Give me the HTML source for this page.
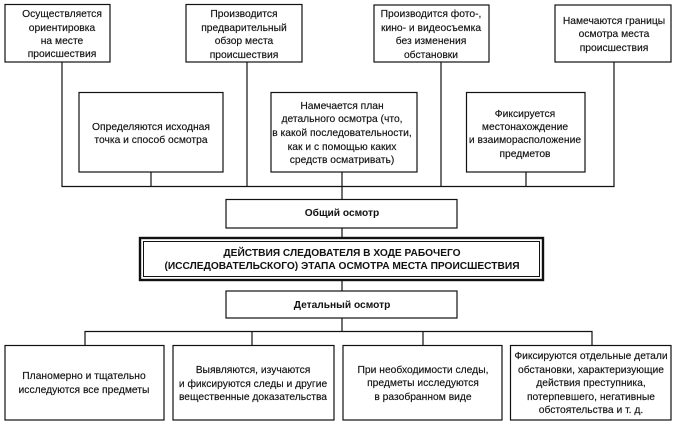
<!DOCTYPE html>
<html lang="ru">
<head>
<meta charset="utf-8">
<title>Действия следователя</title>
<style>
html,body{margin:0;padding:0;background:#fff;width:674px;height:424px;overflow:hidden}
svg{display:block;filter:blur(.3px)}
text{font-family:"Liberation Sans",sans-serif;font-size:10.3px;fill:#111;text-anchor:middle;stroke:#111;stroke-width:.15px}
text.b{font-weight:bold;stroke-width:0;font-size:10.2px}
rect{fill:#fff;stroke:#111;stroke-width:1.2}
path{fill:none;stroke:#111;stroke-width:1.2}
</style>
</head>
<body>
<svg width="674" height="424" viewBox="0 0 674 424" xmlns="http://www.w3.org/2000/svg">
<path d="M62 62V186.500H614V62M151 172V186M247 62V186M441 62V186M526 172V186M342 172V199M342 228V237M342 281V291M342 318V331M85 345V331.500H592V345M252 331V345M423 331V345"/>
<rect x="5" y="4.500" width="105" height="57.500"/>
<rect x="186" y="4.500" width="116" height="57.500"/>
<rect x="374" y="5" width="115" height="57"/>
<rect x="555" y="5" width="116" height="57"/>
<rect x="79" y="92.500" width="144" height="79.500"/>
<rect x="271" y="92.500" width="146" height="79.500"/>
<rect x="466.500" y="92.500" width="118.500" height="79.500"/>
<rect x="226" y="199.500" width="231" height="28.500"/>
<rect x="140" y="238" width="403" height="42" style="stroke-width:2.400"/>
<rect x="143.500" y="241.500" width="396" height="35" style="stroke-width:1"/>
<rect x="226" y="291" width="231" height="27"/>
<rect x="5" y="345.500" width="159" height="74.500"/>
<rect x="173" y="345.500" width="161" height="74.500"/>
<rect x="343" y="345.500" width="159" height="74.500"/>
<rect x="510.500" y="345.500" width="160.500" height="74.500"/>

<text x="62" y="17">Осуществляется</text>
<text x="62" y="31">ориентировка</text>
<text x="62" y="44">на месте</text>
<text x="62" y="57">происшествия</text>

<text x="244" y="17">Производится</text>
<text x="244" y="31">предварительный</text>
<text x="244" y="44">обзор места</text>
<text x="244" y="58">происшествия</text>

<text x="431" y="17">Производится фото-,</text>
<text x="431" y="31">кино- и видеосъемка</text>
<text x="431" y="44">без изменения</text>
<text x="431" y="58">обстановки</text>

<text x="614" y="24">Намечаются границы</text>
<text x="614" y="37">осмотра места</text>
<text x="614" y="51">происшествия</text>

<text x="151" y="130">Определяются исходная</text>
<text x="151" y="143">точка и способ осмотра</text>

<text x="342" y="109">Намечается план</text>
<text x="342" y="122">детального осмотра (что,</text>
<text x="342" y="136">в какой последовательности,</text>
<text x="342" y="150">как и с помощью каких</text>
<text x="342" y="163">средств осматривать)</text>

<text x="525" y="117">Фиксируется</text>
<text x="525" y="130">местонахождение</text>
<text x="525" y="143">и взаиморасположение</text>
<text x="525" y="157">предметов</text>

<text class="b" x="342" y="216">Общий осмотр</text>
<text class="b" x="342" y="256">ДЕЙСТВИЯ СЛЕДОВАТЕЛЯ В ХОДЕ РАБОЧЕГО</text>
<text class="b" x="342" y="269">(ИССЛЕДОВАТЕЛЬСКОГО) ЭТАПА ОСМОТРА МЕСТА ПРОИСШЕСТВИЯ</text>
<text class="b" x="342" y="308">Детальный осмотр</text>

<text x="84" y="379">Планомерно и тщательно</text>
<text x="84" y="393">исследуются все предметы</text>

<text x="253" y="373">Выявляются, изучаются</text>
<text x="253" y="387">и фиксируются следы и другие</text>
<text x="253" y="400">вещественные доказательства</text>

<text x="423" y="373">При необходимости следы,</text>
<text x="423" y="386">предметы исследуются</text>
<text x="423" y="400">в разобранном виде</text>

<text x="591" y="359">Фиксируются отдельные детали</text>
<text x="591" y="373">обстановки, характеризующие</text>
<text x="591" y="386">действия преступника,</text>
<text x="591" y="400">потерпевшего, негативные</text>
<text x="591" y="413">обстоятельства и т. д.</text>
</svg>
</body>
</html>
